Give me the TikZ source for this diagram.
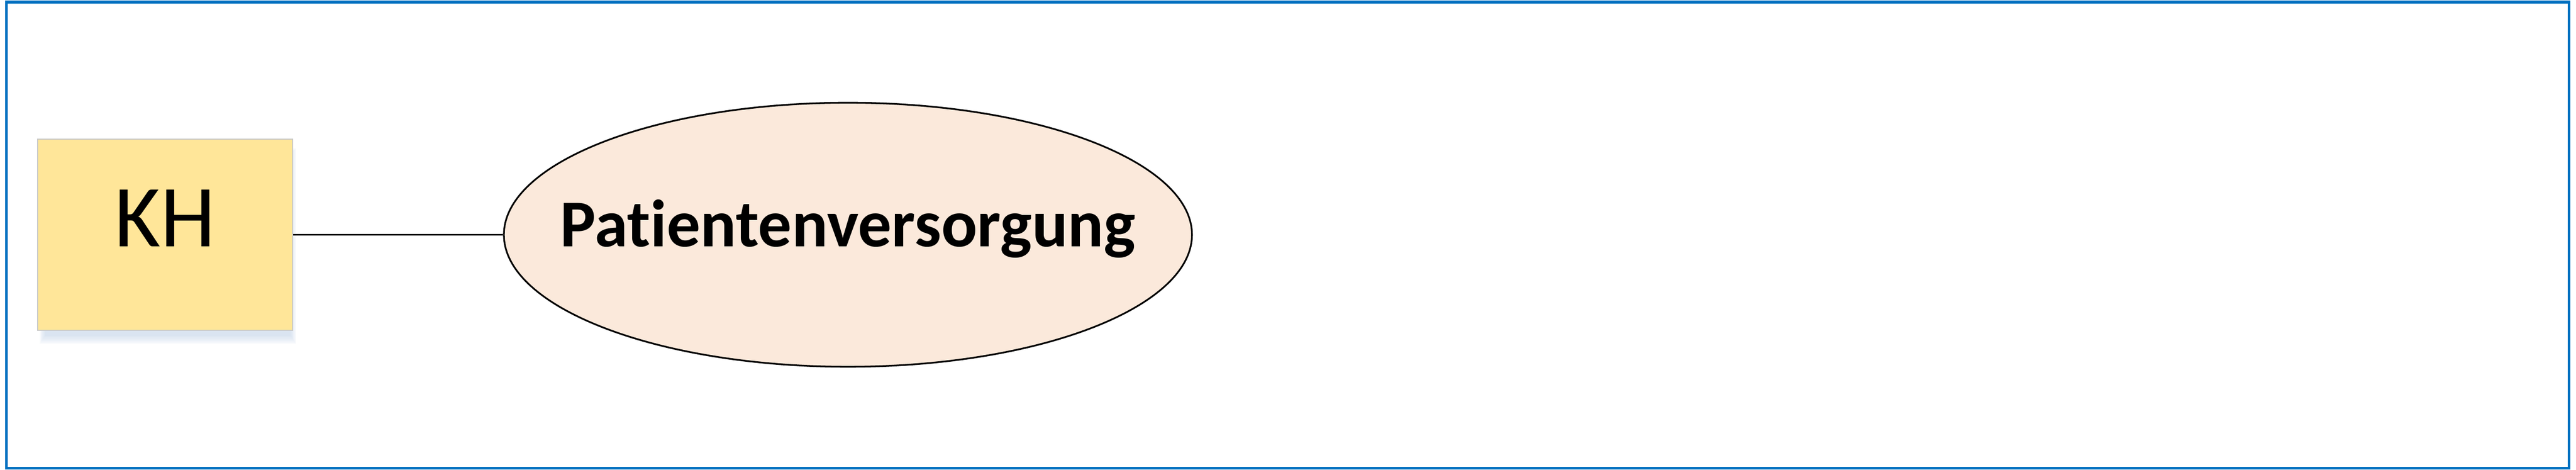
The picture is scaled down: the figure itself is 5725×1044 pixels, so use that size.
\documentclass[tikz,border=0pt]{standalone}
\usepackage{fontspec}
\setmainfont[Ligatures={NoCommon}]{Carlito}
\usetikzlibrary{shapes.geometric}
\definecolor{frameblue}{HTML}{0070C0}
\definecolor{khfill}{HTML}{FFE699}
\definecolor{khdraw}{HTML}{C9C9C9}
\definecolor{pvfill}{HTML}{FBE9DB}
\definecolor{shcol}{HTML}{B8CCE8}
\tikzset{
  khbox/.style={rectangle, fill=khfill, draw=khdraw, line width=0.24pt,
    minimum width=67.92pt, minimum height=50.88pt, inner sep=0pt,
    font=\fontsize{23.6}{28}\selectfont, text height=0.632em, text depth=0pt},
  pvell/.style={ellipse, fill=pvfill, draw=black, line width=0.45pt,
    minimum width=183.5pt, minimum height=70.4pt, inner sep=0pt,
    font=\fontsize{17.85}{21}\selectfont\bfseries, text height=0.632em, text depth=0pt},
  link/.style={draw=black, line width=0.42pt},
  frame/.style={draw=frameblue, line width=0.72pt}
}
\begin{document}
\begin{tikzpicture}[x=0.12pt,y=-0.12pt]
\useasboundingbox (0,0) rectangle (5725,1044);
\fill[white] (0,0) rectangle (5725,1044);
\draw[frame] (14,4.5) rectangle (5709.5,1040);
% soft shadow of the KH box
\foreach \k in {0,...,6}{
  \fill[shcol, fill opacity=0.09] (88+2*\k,330+2*\k) rectangle (658-2*\k,764-3*\k);
}
\node[khbox] (kh) at (367,521.5) {KH};
\node[pvell] (pv) at (1884.5,521.5) {\makebox[0pt]{Patientenversorgung}};
\draw[link] (kh.east) -- (pv.west);
\end{tikzpicture}
\end{document}
